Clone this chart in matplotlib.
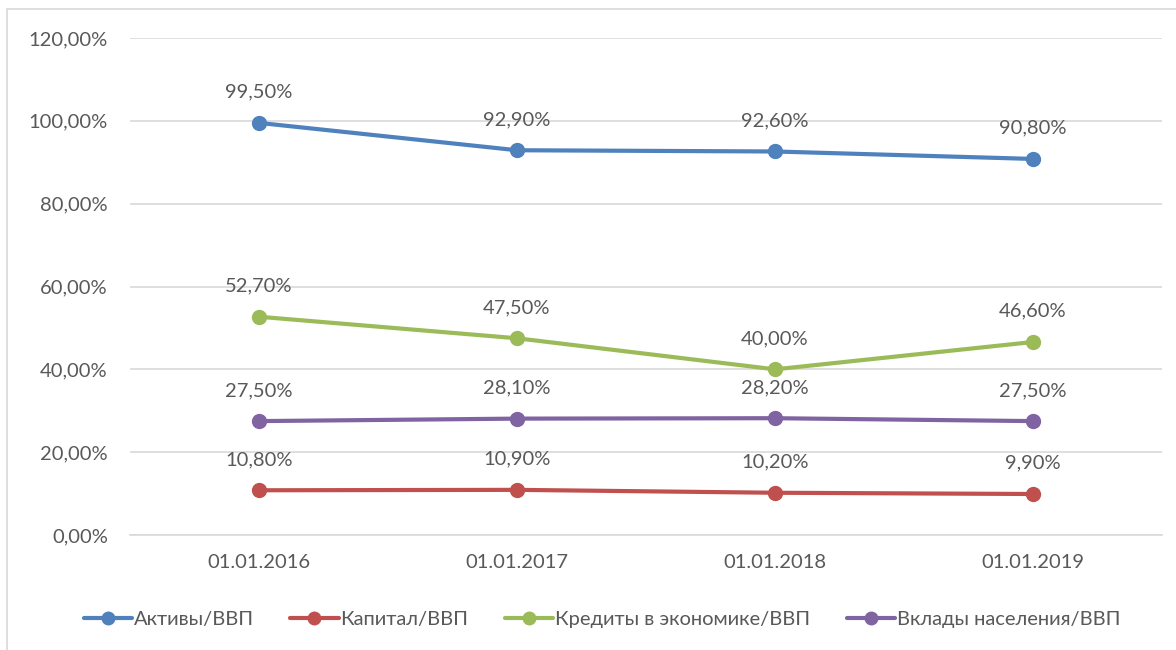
import matplotlib.pyplot as plt
from matplotlib.patches import Rectangle

plt.rcParams['font.family'] = ['Lato', 'DejaVu Sans']

dates = ["01.01.2016", "01.01.2017", "01.01.2018", "01.01.2019"]
aktivy = [99.5, 92.9, 92.6, 90.8]
kapital = [10.8, 10.9, 10.2, 9.9]
kredity = [52.7, 47.5, 40.0, 46.6]
vklady = [27.5, 28.1, 28.2, 27.5]

series = [
    ("Активы/ВВП", aktivy, "#4F81BD"),
    ("Капитал/ВВП", kapital, "#C0504D"),
    ("Кредиты в экономике/ВВП", kredity, "#9BBB59"),
    ("Вклады населения/ВВП", vklady, "#8064A2"),
]

text_color = "#595959"
grid_color = "#D9D9D9"


def pct(v):
    return f"{v:.2f}%".replace(".", ",")


fig = plt.figure(figsize=(11.76, 6.5), dpi=100)
ax = fig.add_axes([130 / 1176, 1 - 535 / 650, 1032 / 1176, (535 - 38) / 650])

x = list(range(len(dates)))
for name, vals, color in series:
    ax.plot(x, vals, color=color, lw=3, marker="o", ms=10, label=name,
            solid_capstyle="round", zorder=3)
    for xi, v in zip(x, vals):
        ax.annotate(pct(v), (xi, v), xytext=(0, 16), textcoords="offset points",
                    ha="center", va="bottom", fontsize=14.5, color=text_color)

ax.set_xlim(-0.5, 3.5)
ax.set_ylim(0, 120)
ax.set_yticks(range(0, 121, 20))
ax.set_yticklabels([pct(v) for v in range(0, 121, 20)])
ax.set_xticks(x)
ax.set_xticklabels(dates)
ax.tick_params(length=0, labelsize=14.5, colors=text_color, pad=16)
ax.tick_params(axis="x", pad=14)
ax.grid(axis="y", color=grid_color, lw=1.2)
ax.set_axisbelow(True)
for side in ["top", "right", "left"]:
    ax.spines[side].set_visible(False)
ax.spines["bottom"].set_color(grid_color)
ax.spines["bottom"].set_linewidth(1.2)

fig.legend(loc="center", bbox_to_anchor=(602 / 1176, 1 - 619 / 650), ncol=4,
           frameon=False, fontsize=14.5, labelcolor=text_color, handlelength=2.4,
           handletextpad=0.1, columnspacing=1.8, markerscale=0.9)

fig.patches.append(Rectangle((7 / 1176, -0.1), 1.2, 1 - 9 / 650 + 0.1,
                             transform=fig.transFigure, fill=False,
                             edgecolor=grid_color, lw=1.2))

fig.savefig("out.png", dpi=100)
